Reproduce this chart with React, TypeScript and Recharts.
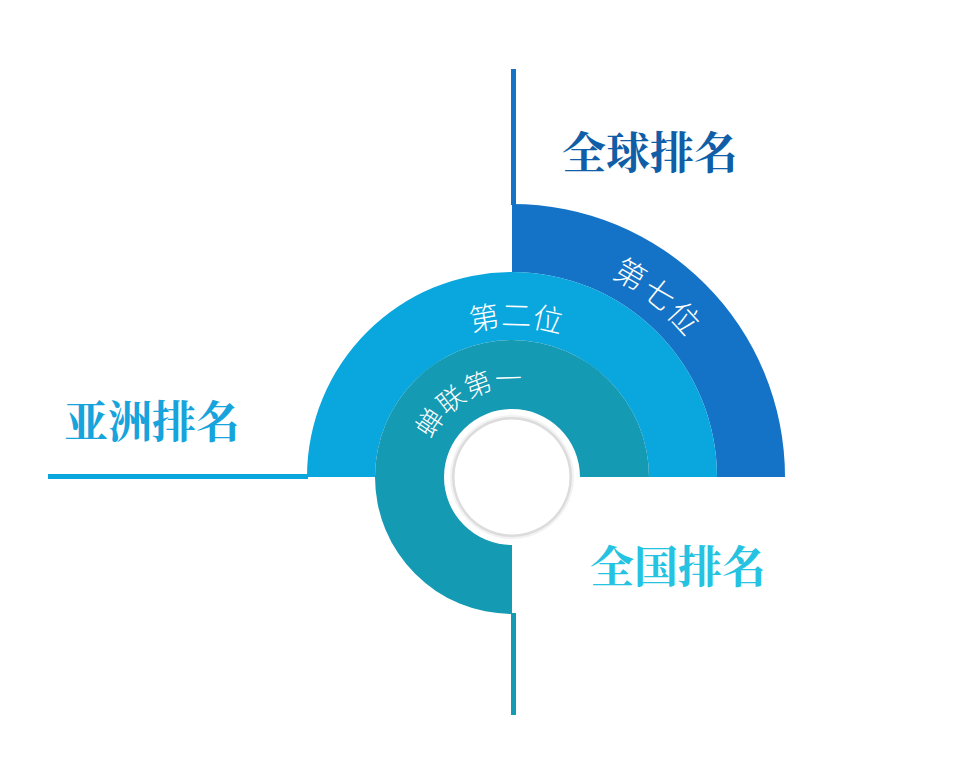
import React from 'react';
import { PieChart, Pie, Cell } from 'recharts';

// ---- data ----
const CATEGORIES = ['全球排名', '亚洲排名', '全国排名'];
const RANK_TEXT = ['第七位', '第二位', '蝉联第一'];
const SWEEP_DEG = [90, 180, 270];

// ---- layout / style ----
const W = 959;
const H = 771;
const CX = 512;
const CY = 477;

type Ring = {
  inner: number;
  outer: number;
  start: number;
  color: string;
  titleColor: string;
  titleX: number;
  titleY: number;
  labelAngle: number;
  labelR: number;
  fontSize: number;
  spacing: number;
  leadAngle: number;
  leadLen: number;
  leadOffset: [number, number];
};

const RINGS: Ring[] = [
  {
    inner: 205, outer: 273, start: 90, color: '#1473c6', titleColor: '#0f5ea7',
    titleX: 650, titleY: 150, labelAngle: 51, labelR: 235, fontSize: 31, spacing: 2,
    leadAngle: 90, leadLen: 135, leadOffset: [1.5, 0],
  },
  {
    inner: 137, outer: 205, start: 180, color: '#0aa6de', titleColor: '#17a4dc',
    titleX: 152, titleY: 419, labelAngle: 88.5, labelR: 162, fontSize: 30, spacing: 0,
    leadAngle: 180, leadLen: 259, leadOffset: [0, -0.5],
  },
  {
    inner: 68, outer: 137, start: 270, color: '#159ab4', titleColor: '#25c3e1',
    titleX: 678, titleY: 564, labelAngle: 119, labelR: 99, fontSize: 27, spacing: 1,
    leadAngle: 270, leadLen: 101, leadOffset: [1.5, 0],
  },
];

const RAD = Math.PI / 180;
const polar = (cx: number, cy: number, r: number, a: number) => ({
  x: cx + r * Math.cos(a * RAD),
  y: cy - r * Math.sin(a * RAD),
});

const makeLabel = (ring: Ring, i: number) => (props: any) => {
  if (props.index !== 0) return null;
  const cx = typeof props.cx === 'number' ? props.cx : CX;
  const cy = typeof props.cy === 'number' ? props.cy : CY;
  const outerR = typeof props.outerRadius === 'number' ? props.outerRadius : ring.outer;
  const baseR = ring.labelR - ring.fontSize * 0.38;
  const half = 60;
  const p1 = polar(cx, cy, baseR, ring.labelAngle + half);
  const p2 = polar(cx, cy, baseR, ring.labelAngle - half);
  const id = `arc-text-${i}`;
  const l1 = polar(cx, cy, outerR - 1, ring.leadAngle);
  const l2 = polar(cx, cy, outerR + ring.leadLen, ring.leadAngle);
  return (
    <g>
      <defs>
        <path id={id} d={`M ${p1.x} ${p1.y} A ${baseR} ${baseR} 0 0 1 ${p2.x} ${p2.y}`} fill="none" />
      </defs>
      <line
        x1={l1.x + ring.leadOffset[0]}
        y1={l1.y + ring.leadOffset[1]}
        x2={l2.x + ring.leadOffset[0]}
        y2={l2.y + ring.leadOffset[1]}
        stroke={ring.color}
        strokeWidth={5}
      />
      <text
        fill="#ffffff"
        fontSize={ring.fontSize}
        fontWeight={300}
        fontFamily="'Noto Sans CJK SC', sans-serif"
        letterSpacing={ring.spacing}
      >
        <textPath href={`#${id}`} startOffset="50%" textAnchor="middle">
          {RANK_TEXT[i]}
        </textPath>
      </text>
      <text
        x={ring.titleX}
        y={ring.titleY}
        fill={ring.titleColor}
        fontSize={44}
        fontWeight={700}
        fontFamily="'Noto Serif CJK SC', 'Noto Sans CJK SC', serif"
        textAnchor="middle"
        dominantBaseline="central"
      >
        {CATEGORIES[i]}
      </text>
    </g>
  );
};

export default function App() {
  return (
    <div style={{ position: 'fixed', left: 0, top: 0, width: W, height: H, background: '#fff' }}>
      <PieChart width={W} height={H} margin={{ top: 0, right: 0, bottom: 0, left: 0 }}>
        {RINGS.map((ring, i) => {
          const data = [
            { name: CATEGORIES[i], value: SWEEP_DEG[i] },
            { name: 'rest', value: 360 - SWEEP_DEG[i] },
          ];
          return (
            <Pie
              key={i}
              data={data}
              dataKey="value"
              cx={CX}
              cy={CY}
              innerRadius={ring.inner}
              outerRadius={ring.outer}
              startAngle={ring.start}
              endAngle={ring.start - 360}
              stroke="none"
              isAnimationActive={false}
              labelLine={false}
              label={makeLabel(ring, i)}
            >
              <Cell fill={ring.color} />
              <Cell fill="transparent" />
            </Pie>
          );
        })}
        <Pie data={[{ name: 'shadow', value: 1 }]} dataKey="value" cx={CX} cy={CY} outerRadius={62} stroke="none" fill="#f2f2f2" isAnimationActive={false} />
        <Pie data={[{ name: 'ring', value: 1 }]} dataKey="value" cx={CX} cy={CY} outerRadius={60} stroke="none" fill="#dcdcdc" isAnimationActive={false} />
        <Pie data={[{ name: 'center', value: 1 }]} dataKey="value" cx={CX} cy={CY} outerRadius={57.5} stroke="none" fill="#ffffff" isAnimationActive={false} />
      </PieChart>
    </div>
  );
}
